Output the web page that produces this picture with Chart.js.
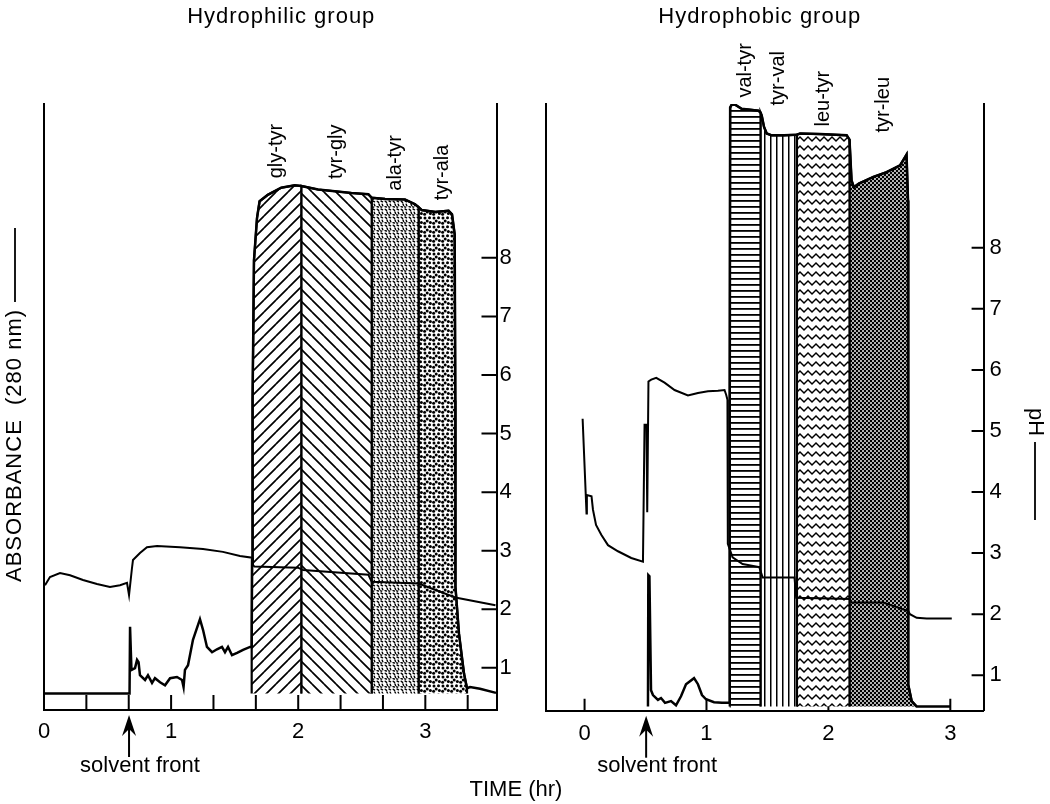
<!DOCTYPE html>
<html>
<head>
<meta charset="utf-8">
<title>Dipeptide elution, hydrophilic and hydrophobic groups</title>
<script src="https://cdn.jsdelivr.net/npm/chart.js@4.4.1/dist/chart.umd.min.js"></script>
<style>
  html, body { margin: 0; background: #fff; }
  #wrap { position: relative; width: 1050px; height: 804px; }
  #wrap canvas { position: absolute; left: 0; top: 0; }
</style>
</head>
<body>
<div id="wrap">
  <canvas id="philic" width="1050" height="804"></canvas>
  <canvas id="phobic" width="1050" height="804"></canvas>
</div>
<script>
const FONT = '"Liberation Sans", Arial, Helvetica, sans-serif';

// time (hr), absorbance at 280 nm (% of full scale above baseline), pH
const philicAbsTime = [0, 0.673, 0.677, 0.688, 0.716, 0.732, 0.744, 0.755, 0.795, 0.818, 0.850, 0.873, 0.913, 0.952,
  0.992, 1.046, 1.086, 1.098, 1.109, 1.133, 1.172, 1.227, 1.251, 1.282, 1.322, 1.361, 1.400, 1.424, 1.448, 1.479,
  1.519, 1.566, 1.621, 1.634, 1.637, 1.641, 1.652, 1.676, 1.696, 1.761, 1.866, 1.972, 2.024, 2.156, 2.288, 2.419,
  2.552, 2.578, 2.683, 2.840, 2.919, 2.947, 2.972, 3.078, 3.183, 3.210, 3.231, 3.236, 3.237, 3.265, 3.305, 3.328,
  3.352, 3.430, 3.556];
const philicAbs = [0, 0, 11.3, 4.0, 4.3, 5.7, 5.3, 3.1, 2.3, 3.1, 1.8, 2.6, 1.9, 1.4,
  2.6, 2.8, 2.3, 1.1, 4.0, 4.8, 9.1, 12.6, 10.8, 7.9, 7.0, 7.5, 7.9, 7.0, 7.9, 6.5,
  6.9, 7.4, 7.9, 7.9, 22.6, 49.7, 73.5, 80.7, 83.5, 84.6, 85.8, 86.2, 86.1, 85.5, 85.2, 84.9,
  84.7, 84.1, 83.9, 83.8, 83.0, 82.5, 82.0, 81.7, 81.9, 81.3, 77.9, 49.7, 18.1, 10.1, 3.3, 0.9,
  1.1, 0.8, 0.1];
const philicPhTime = [0.008, 0.047, 0.126, 0.205, 0.307, 0.417, 0.519, 0.598, 0.653, 0.669, 0.692, 0.700, 0.755,
  0.810, 0.889, 1.070, 1.251, 1.408, 1.542, 1.637, 1.644, 1.655, 1.998, 2.038, 2.552, 2.578, 2.947, 3.236, 3.552];
const philicPh = [2.41, 2.55, 2.62, 2.58, 2.50, 2.43, 2.38, 2.41, 2.45, 2.24, 2.70, 2.84, 2.96,
  3.06, 3.08, 3.06, 3.03, 2.98, 2.91, 2.88, 2.76, 2.73, 2.71, 2.67, 2.59, 2.47, 2.44, 2.20, 2.07];
const philicPeptides = ['gly-tyr', 'tyr-gly', 'ala-tyr', 'tyr-ala'];
const philicBounds = [1.634, 2.024, 2.578, 2.947, 3.328];

const phobicAbsTime = [0.520, 0.523, 0.532, 0.545, 0.561, 0.602, 0.627, 0.660, 0.709, 0.750, 0.791, 0.832, 0.898,
  0.930, 0.963, 0.996, 1.062, 1.127, 1.190, 1.191, 1.194, 1.207, 1.234, 1.289, 1.425, 1.443, 1.453, 1.472, 1.494,
  1.535, 1.636, 1.742, 1.767, 1.931, 2.150, 2.173, 2.190, 2.209, 2.250, 2.368, 2.478, 2.587, 2.620, 2.641, 2.653,
  2.655, 2.655, 2.683, 2.724, 2.998];
const phobicAbs = [0, 21.8, 21.6, 2.7, 1.9, 1.1, 1.4, 0.6, 0.9, 0.2, 1.7, 3.7, 4.7,
  3.7, 1.9, 1.2, 0.7, 0.6, 0.6, 50.8, 99.4, 99.9, 99.9, 99.2, 98.9, 98.6, 98.1, 96.2, 95.1,
  94.8, 94.8, 94.9, 95.1, 95.0, 94.8, 94.1, 87.3, 86.2, 86.8, 87.9, 88.7, 89.8, 90.9, 91.6, 84.0,
  50.8, 3.6, 0.9, 0, 0];
const phobicPhTime = [-0.016, 0.016, 0.019, 0.057, 0.069, 0.094, 0.137, 0.192, 0.274, 0.383, 0.479, 0.492, 0.508,
  0.514, 0.524, 0.547, 0.588, 0.656, 0.738, 0.848, 0.930, 1.012, 1.094, 1.148, 1.162, 1.172, 1.175, 1.214, 1.296,
  1.433, 1.461, 1.722, 1.736, 2.175, 2.189, 2.450, 2.655, 2.669, 2.724, 2.806, 3.012];
const phobicPh = [5.20, 3.65, 3.95, 3.93, 3.71, 3.46, 3.30, 3.13, 3.03, 2.92, 2.86, 5.10, 5.10,
  3.67, 5.81, 5.84, 5.87, 5.79, 5.67, 5.58, 5.62, 5.65, 5.66, 5.67, 5.59, 5.51, 3.15, 2.93, 2.82,
  2.77, 2.60, 2.60, 2.27, 2.25, 2.19, 2.19, 2.05, 2.00, 1.94, 1.93, 1.93];
const phobicPeptides = ['val-tyr', 'tyr-val', 'leu-tyr', 'tyr-leu'];
const phobicBounds = [1.190, 1.443, 1.742, 2.173, 2.724];

const timeLabels = [0, 1, 2, 3];
const philicTimeTicks = [1 / 3, 2 / 3, 1, 4 / 3, 5 / 3, 2, 7 / 3, 8 / 3, 3, 10 / 3];
const phobicTimeTicks = [0, 1, 2, 3];
const phTicks = [1, 2, 3, 4, 5, 6, 7, 8];

function makePattern(w, h, paint, dark) {
  const c = document.createElement('canvas');
  c.width = w;
  c.height = h;
  const g = c.getContext('2d');
  g.fillStyle = dark ? '#000' : '#fff';
  g.fillRect(0, 0, w, h);
  g.fillStyle = dark ? '#fff' : '#000';
  g.strokeStyle = '#000';
  paint(g);
  return g.createPattern(c, 'repeat');
}

function dots(g, list, r) {
  list.forEach(([a, b]) => { g.beginPath(); g.arc(a, b, r, 0, Math.PI * 2); g.fill(); });
}

function strokes(g, list, w) {
  g.lineWidth = w;
  g.lineCap = 'round';
  g.beginPath();
  list.forEach(([a, b, c, d]) => { g.moveTo(a, b); g.lineTo(c, d); });
  g.stroke();
}

const fills = {
  slashUp: makePattern(12, 12, g => strokes(g, [[-12, 12, 0, 0], [0, 12, 12, 0], [12, 12, 24, 0]], 1.7)),
  slashDown: makePattern(12, 12, g => strokes(g, [[-12, 0, 0, 12], [0, 0, 12, 12], [12, 0, 24, 12]], 1.7)),
  fineSpeck: makePattern(8, 8, g => strokes(g, [[1.2, 1.2, 2.6, 2.4], [5, 1, 6.6, 1.8], [3, 4, 3.6, 5.6],
    [6.2, 4.2, 6.8, 5.8], [1, 6.6, 2.4, 7], [4.6, 6.8, 5.6, 7.2]], 1.4)),
  coarseSpeck: makePattern(9, 9, g => dots(g, [[2, 2], [6.5, 1.8], [4.2, 5], [7.4, 6.6], [1.6, 7.3]], 1.5)),
  horizontal: makePattern(6, 6, g => g.fillRect(0, 2, 6, 1.8)),
  vertical: makePattern(6, 6, g => g.fillRect(2, 0, 1.5, 6)),
  zigzag: makePattern(8, 9, g => {
    g.lineWidth = 1.5;
    g.beginPath();
    g.moveTo(-4, 6); g.lineTo(0, 2); g.lineTo(4, 6); g.lineTo(8, 2); g.lineTo(12, 6);
    g.stroke();
  }),
  crossDots: makePattern(4, 4, g => dots(g, [[1, 1], [3, 3]], 0.95), true),
};

function regionSets(times, values, bounds, names, patterns) {
  return names.map((name, i) => {
    const a = bounds[i];
    const b = bounds[i + 1];
    const pts = times.map((t, k) => ({ x: t, y: values[k] })).filter(p => p.x >= a && p.x <= b);
    return {
      label: name,
      region: true,
      data: [{ x: a, y: 0 }, ...pts, { x: b, y: 0 }],
      yAxisID: 'abs',
      borderColor: '#000',
      borderWidth: 2.2,
      backgroundColor: patterns[i],
      fill: { value: 0 },
      pointRadius: 0,
      order: 3,
    };
  });
}

function decor(p) {
  return {
    id: 'decor',
    beforeDatasetsDraw(chart) {
      const { ctx, chartArea: a, scales } = chart;
      ctx.save();
      ctx.strokeStyle = '#000';
      ctx.lineWidth = 2;
      ctx.beginPath();
      p.timeTicks.forEach(t => {
        const px = scales.x.getPixelForValue(t);
        ctx.moveTo(px, a.bottom);
        ctx.lineTo(px, a.bottom - p.tickLength);
      });
      phTicks.forEach(v => {
        const py = scales.y.getPixelForValue(v);
        ctx.moveTo(a.right, py);
        ctx.lineTo(a.right - p.tickLength, py);
      });
      ctx.stroke();
      ctx.restore();
    },
    afterDraw(chart) {
      const { ctx, chartArea: a, scales } = chart;
      ctx.save();
      ctx.fillStyle = '#000';
      ctx.strokeStyle = '#000';

      ctx.font = `22px ${FONT}`;
      ctx.textAlign = 'center';
      ctx.textBaseline = 'alphabetic';
      ctx.letterSpacing = '1px';
      ctx.fillText(p.title, (a.left + a.right) / 2 + p.titleShift, 23);
      ctx.letterSpacing = '0px';

      // peptide names over each band
      ctx.font = `20px ${FONT}`;
      ctx.textAlign = 'left';
      ctx.textBaseline = 'middle';
      chart.data.datasets.forEach(ds => {
        if (!ds.region) return;
        const first = ds.data[0].x;
        const last = ds.data[ds.data.length - 1].x;
        const top = Math.max(...ds.data.map(d => d.y));
        const px = scales.x.getPixelForValue((first + last) / 2);
        const py = scales.abs.getPixelForValue(top) - 7;
        ctx.save();
        ctx.translate(px, py);
        ctx.rotate(-Math.PI / 2);
        ctx.fillText(ds.label, 0, 0);
        ctx.restore();
      });

      // solvent front arrow
      const fx = scales.x.getPixelForValue(p.front);
      const tip = a.bottom + 5;
      ctx.beginPath();
      ctx.moveTo(fx, tip);
      ctx.lineTo(fx + 7, tip + 21);
      ctx.lineTo(fx, tip + 14);
      ctx.lineTo(fx - 7, tip + 21);
      ctx.closePath();
      ctx.fill();
      ctx.lineWidth = 2;
      ctx.beginPath();
      ctx.moveTo(fx, tip + 12);
      ctx.lineTo(fx, tip + 42);
      ctx.stroke();
      ctx.font = `22px ${FONT}`;
      ctx.textAlign = 'center';
      ctx.textBaseline = 'alphabetic';
      ctx.fillText('solvent front', fx + 11, 772);

      if (p.timeTitle) ctx.fillText(p.timeTitle, 516, 796);

      // rotated axis names, each followed by a short line standing for its trace
      ctx.textAlign = 'left';
      ctx.textBaseline = 'middle';
      if (p.absTitle) {
        ctx.save();
        ctx.translate(15, 582);
        ctx.rotate(-Math.PI / 2);
        ctx.letterSpacing = '1px';
        ctx.fillText(p.absTitle, 0, 0);
        ctx.letterSpacing = '0px';
        ctx.lineWidth = 1.8;
        ctx.beginPath();
        ctx.moveTo(280, 0);
        ctx.lineTo(354, 0);
        ctx.stroke();
        ctx.restore();
      }
      if (p.phTitle) {
        ctx.save();
        ctx.translate(1035, 408);
        ctx.rotate(Math.PI / 2);
        ctx.fillText(p.phTitle, 0, 0);
        ctx.lineWidth = 1.8;
        ctx.beginPath();
        ctx.moveTo(34, 0);
        ctx.lineTo(112, 0);
        ctx.stroke();
        ctx.restore();
      }
      ctx.restore();
    },
  };
}

function panel(id, p) {
  const absLine = {
    label: 'absorbance (280 nm)',
    data: p.absTime.map((t, i) => ({ x: t, y: p.abs[i] })),
    yAxisID: 'abs',
    borderColor: '#000',
    borderWidth: 2.5,
    pointRadius: 0,
    fill: false,
    order: 0,
  };
  const phLine = {
    label: 'pH',
    data: p.phTime.map((t, i) => ({ x: t, y: p.ph[i] })),
    yAxisID: 'y',
    borderColor: '#000',
    borderWidth: 2,
    pointRadius: 0,
    fill: false,
    order: 1,
  };
  const tickFont = { family: FONT, size: 22 };
  return new Chart(document.getElementById(id), {
    type: 'line',
    data: { datasets: [absLine, phLine, ...regionSets(p.absTime, p.abs, p.bounds, p.peptides, p.patterns)] },
    options: {
      responsive: false,
      animation: false,
      events: [],
      layout: { padding: p.padding },
      plugins: { legend: { display: false }, tooltip: { enabled: false } },
      scales: {
        x: {
          type: 'linear',
          position: 'bottom',
          min: p.xMin,
          max: p.xMax,
          grid: { display: false, drawTicks: false },
          border: { display: true, color: '#000', width: 2 },
          ticks: { color: '#000', font: tickFont, padding: p.xPad, maxRotation: 0, autoSkip: false },
          afterBuildTicks: s => { s.ticks = timeLabels.map(v => ({ value: v })); },
          afterFit: s => { s.height = p.xHeight; },
        },
        abs: {
          type: 'linear',
          position: 'left',
          min: p.absMin,
          max: 100,
          grid: { display: false, drawTicks: false },
          ticks: { display: false },
          border: { display: true, color: '#000', width: 2 },
          afterFit: s => { s.width = p.absWidth; },
        },
        y: {
          type: 'linear',
          position: 'right',
          min: p.phMin,
          max: p.phMax,
          grid: { display: false, drawTicks: false },
          border: { display: true, color: '#000', width: 2 },
          ticks: { color: '#000', font: tickFont, padding: p.phPad },
          afterBuildTicks: s => { s.ticks = phTicks.map(v => ({ value: v })); },
          afterFit: s => { s.width = 30; },
        },
      },
    },
    plugins: [decor(p)],
  });
}

panel('philic', {
  absTime: philicAbsTime, abs: philicAbs, phTime: philicPhTime, ph: philicPh,
  peptides: philicPeptides, bounds: philicBounds,
  patterns: [fills.slashUp, fills.slashDown, fills.fineSpeck, fills.coarseSpeck],
  padding: { left: 0, top: 104, right: 523.5, bottom: 0 },
  absWidth: 44, xHeight: 94, xPad: 9, phPad: 3,
  xMin: 0, xMax: 3.56, absMin: -2.8, phMin: 0.28, phMax: 10.627,
  absTitle: 'ABSORBANCE  (280 nm)',
  timeTicks: philicTimeTicks, tickLength: 15,
  title: 'Hydrophilic group', titleShift: 11,
  front: 0.669, timeTitle: 'TIME (hr)',
});

panel('phobic', {
  absTime: phobicAbsTime, abs: phobicAbs, phTime: phobicPhTime, ph: phobicPh,
  peptides: phobicPeptides, bounds: phobicBounds,
  patterns: [fills.horizontal, fills.vertical, fills.zigzag, fills.crossDots],
  padding: { left: 545.8, top: 104, right: 36.4, bottom: 0 },
  absWidth: 0, xHeight: 93.3, xPad: 10, phPad: 6,
  xMin: -0.318, xMax: 3.273, absMin: -0.7, phMin: 0.419, phMax: 10.354,
  timeTicks: phobicTimeTicks, tickLength: 12,
  title: 'Hydrophobic group', titleShift: -5,
  front: 0.505, phTitle: 'pH',
});
</script>
</body>
</html>
